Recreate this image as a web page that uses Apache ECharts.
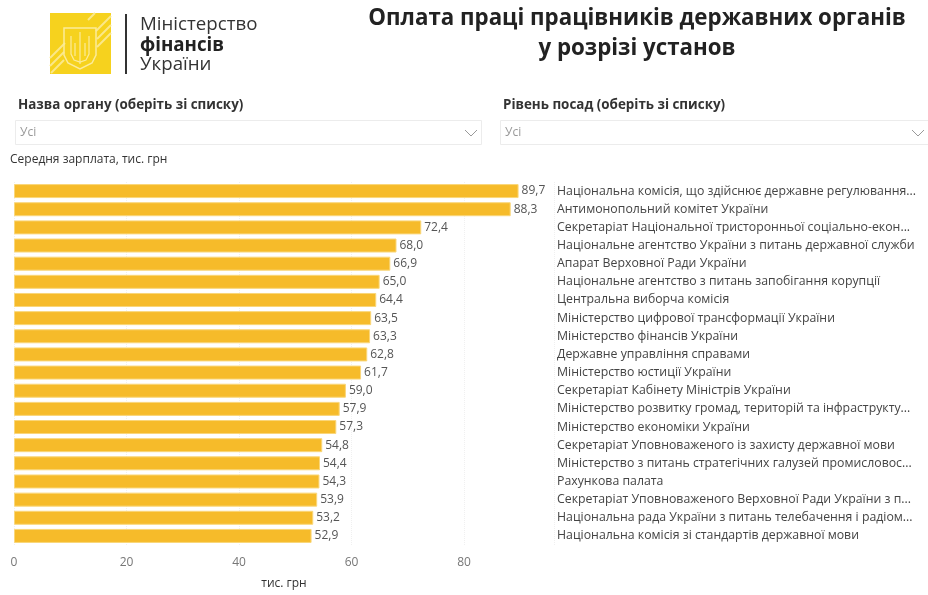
<!DOCTYPE html>
<html>
<head>
<meta charset="utf-8">
<script src="https://cdn.jsdelivr.net/npm/echarts@6/dist/echarts.min.js"></script>
<style>
  html, body { margin: 0; padding: 0; background: #fff; }
  #main { width: 928px; height: 595px; }
</style>
</head>
<body>
<div id="main"></div>
<script>
  // дані
  const organs = [
    'Національна комісія, що здійснює державне регулювання у сферах енергетики та комунальних послуг',
    'Антимонопольний комітет України',
    'Секретаріат Національної тристоронньої соціально-економічної ради',
    'Національне агентство України з питань державної служби',
    'Апарат Верховної Ради України',
    'Національне агентство з питань запобігання корупції',
    'Центральна виборча комісія',
    'Міністерство цифрової трансформації України',
    'Міністерство фінансів України',
    'Державне управління справами',
    'Міністерство юстиції України',
    'Секретаріат Кабінету Міністрів України',
    'Міністерство розвитку громад, територій та інфраструктури України',
    'Міністерство економіки України',
    'Секретаріат Уповноваженого із захисту державної мови',
    'Міністерство з питань стратегічних галузей промисловості України',
    'Рахункова палата',
    'Секретаріат Уповноваженого Верховної Ради України з прав людини',
    'Національна рада України з питань телебачення і радіомовлення',
    'Національна комісія зі стандартів державної мови'
  ];
  const salary = [89.7, 88.3, 72.4, 68.0, 66.9, 65.0, 64.4, 63.5, 63.3, 62.8,
                  61.7, 59.0, 57.9, 57.3, 54.8, 54.4, 54.3, 53.9, 53.2, 52.9];
  const xTicks = [0, 20, 40, 60, 80];

  const font = '"Open Sans", "Noto Sans", sans-serif';
  let myChart = echarts.init(document.getElementById('main'));

  // обрізаємо довгі назви, як у Power BI
  const ctx = document.createElement('canvas').getContext('2d');
  ctx.font = '12.3px ' + font;
  const fitLabel = (s, maxW) => {
    if (ctx.measureText(s).width <= maxW) return s;
    let t = s;
    while (t.length && ctx.measureText(t + '...').width > maxW) t = t.slice(0, -1);
    return t.trimEnd() + '...';
  };

  const stripe = '#FBE88A';
  const line = (pts, color, w) => ({ type: 'polyline', shape: { points: pts }, style: { stroke: color, lineWidth: w, fill: 'none' } });

  // логотип: жовтий квадрат, щит з тризубом
  let logo = [
    { type: 'rect', shape: { x: 50, y: 13, width: 61, height: 61 }, style: { fill: '#F6D21E' } },
    line([[50, 58], [65, 43]], stripe, 2),
    line([[50, 66], [64, 52]], stripe, 2),
    line([[51, 73], [64, 60]], stripe, 2),
    line([[96, 31], [111, 16]], stripe, 2),
    line([[97, 39], [111, 25]], stripe, 2),
    line([[97, 47], [111, 33]], stripe, 2),
    line([[88, 20], [95, 13]], stripe, 2),
    { type: 'polygon', shape: { points: [[64, 28], [96, 28], [96, 55], [92, 63], [80, 69], [68, 63], [64, 55]] }, style: { fill: 'none', stroke: '#FCEB9A', lineWidth: 1.5 } },
    line([[80, 32], [80, 64]], '#FCEB9A', 1.2),
    line([[71, 36], [71, 54], [74, 60], [80, 62], [86, 60], [89, 54], [89, 36]], '#FCEB9A', 1.2),
    line([[75, 43], [75, 56]], '#FCEB9A', 1.2),
    line([[85, 43], [85, 56]], '#FCEB9A', 1.2),
    { type: 'rect', shape: { x: 125, y: 14, width: 2, height: 60 }, style: { fill: '#333' } },
    { type: 'text', x: 140, y: 25, style: { text: 'Міністерство', font: '18.7px ' + font, fill: '#333', verticalAlign: 'middle' } },
    { type: 'text', x: 140, y: 46, style: { text: 'фінансів', font: 'bold 18.7px ' + font, fill: '#222', verticalAlign: 'middle' } },
    { type: 'text', x: 140, y: 65, style: { text: 'України', font: '18.7px ' + font, fill: '#333', verticalAlign: 'middle' } }
  ];

  // заголовок і фільтри
  let header = [
    { type: 'text', x: 637, y: 19, style: { text: 'Оплата праці працівників державних органів', font: 'bold 22.3px ' + font, fill: '#222', align: 'center', verticalAlign: 'middle' } },
    { type: 'text', x: 637, y: 49, style: { text: 'у розрізі установ', font: 'bold 22.3px ' + font, fill: '#222', align: 'center', verticalAlign: 'middle' } },
    { type: 'text', x: 18, y: 105, style: { text: 'Назва органу (оберіть зі списку)', font: 'bold 13.4px ' + font, fill: '#333', verticalAlign: 'middle' } },
    { type: 'text', x: 503, y: 105, style: { text: 'Рівень посад (оберіть зі списку)', font: 'bold 13.4px ' + font, fill: '#333', verticalAlign: 'middle' } },
    { type: 'rect', shape: { x: 15.5, y: 120.5, width: 466, height: 24 }, style: { fill: '#fff', stroke: '#ececec', lineWidth: 1 } },
    { type: 'rect', shape: { x: 500.5, y: 120.5, width: 430, height: 24 }, style: { fill: '#fff', stroke: '#ececec', lineWidth: 1 } },
    { type: 'text', x: 20, y: 133, style: { text: 'Усі', font: '12px ' + font, fill: '#999', verticalAlign: 'middle' } },
    { type: 'text', x: 505, y: 133, style: { text: 'Усі', font: '12px ' + font, fill: '#999', verticalAlign: 'middle' } },
    line([[465, 130], [471, 136], [477, 130]], '#999', 1),
    line([[912, 130], [918, 136], [924, 130]], '#999', 1),
    { type: 'text', x: 10, y: 160, style: { text: 'Середня зарплата, тис. грн', font: '12px ' + font, fill: '#333', verticalAlign: 'middle' } }
  ];

  let option = {
    animation: false,
    textStyle: { fontFamily: font },
    graphic: logo.concat(header),
    grid: {
      left: 14,
      right: 374,
      top: 182,
      bottom: 45
    },
    xAxis: {
      type: 'value',
      min: 0,
      max: 96,
      interval: 20,
      name: 'тис. грн',
      nameLocation: 'middle',
      nameGap: 33,
      nameTextStyle: { color: '#333', fontSize: 12 },
      axisLine: { show: false },
      axisTick: { show: false },
      axisLabel: {
        color: '#777',
        fontSize: 12,
        margin: 12,
        showMaxLabel: false,
        formatter: v => xTicks.indexOf(v) >= 0 ? String(v) : ''
      },
      splitLine: { show: true, lineStyle: { color: '#f0f0f0', type: 'dotted' } }
    },
    yAxis: {
      type: 'category',
      data: organs,
      inverse: true,
      position: 'right',
      axisLine: { show: false },
      axisTick: { show: false },
      axisLabel: {
        align: 'left',
        margin: 3,
        color: '#444',
        fontSize: 12.3,
        formatter: v => fitLabel(v, 360)
      }
    },
    series: [
      {
        type: 'bar',
        data: salary,
        barWidth: 14,
        itemStyle: {
          color: '#F6BB2A',
          borderColor: '#FAD77A',
          borderWidth: 1
        },
        label: {
          show: true,
          position: 'right',
          distance: 3,
          color: '#555',
          fontSize: 12,
          formatter: p => p.value.toFixed(1).replace('.', ',')
        }
      }
    ]
  };

  myChart.setOption(option);
</script>
</body>
</html>
